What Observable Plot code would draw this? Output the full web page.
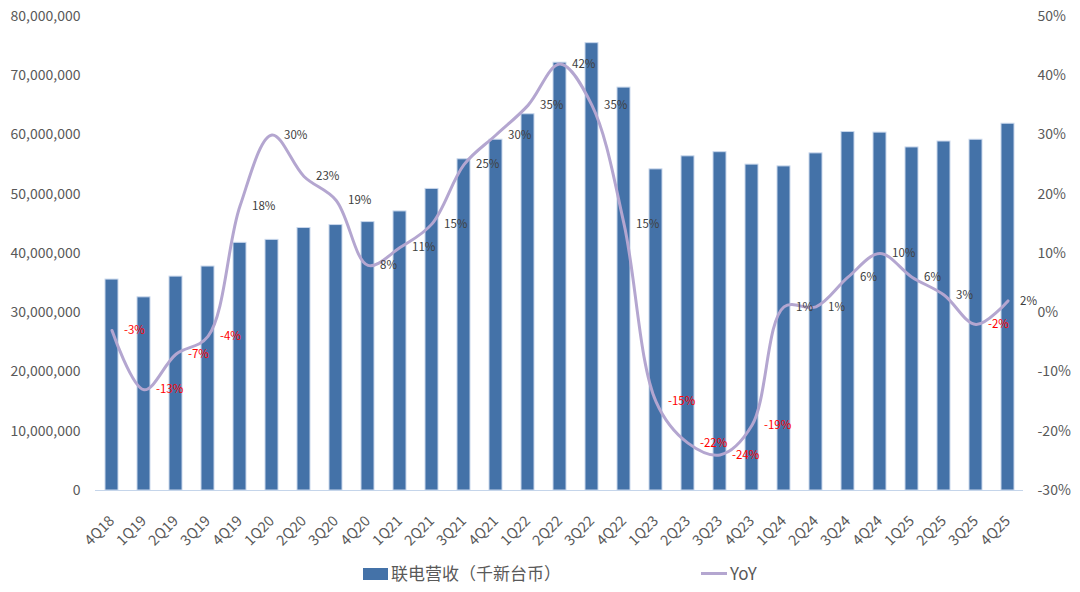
<!DOCTYPE html>
<html>
<head>
<meta charset="utf-8">
<script src="https://cdn.jsdelivr.net/npm/d3@7"></script>
<script src="https://cdn.jsdelivr.net/npm/@observablehq/plot@0.6"></script>
<style>
  html, body { margin: 0; padding: 0; background: #fff; }
  body { width: 1080px; height: 592px; overflow: hidden; font-family: "Noto Sans CJK SC", "Noto Sans", sans-serif; }
  #legend { position: relative; width: 1080px; height: 37px; color: #595959; font-size: 17px; }
  #legend .sw { position: absolute; }
  #legend .tx { position: absolute; line-height: 20px; }
</style>
</head>
<body>
<div id="chart"></div>
<div id="legend">
  <div class="sw" style="left:363px; top:13px; width:25px; height:12px; background:#4472A8;"></div>
  <div class="tx" style="left:391px; top:8px;">联电营收（千新台币）</div>
  <div class="sw" style="left:701px; top:17px; width:26px; height:3px; background:#B4A6D0;"></div>
  <div class="tx" style="left:730px; top:8px;">YoY</div>
</div>
<script>
const quarters = ["4Q18","1Q19","2Q19","3Q19","4Q19","1Q20","2Q20","3Q20","4Q20","1Q21","2Q21","3Q21","4Q21","1Q22","2Q22","3Q22","4Q22","1Q23","2Q23","3Q23","4Q23","1Q24","2Q24","3Q24","4Q24","1Q25","2Q25","3Q25","4Q25"];
const revenue = [35600000,32600000,36100000,37800000,41800000,42300000,44300000,44800000,45300000,47100000,50900000,55900000,59200000,63500000,72200000,75500000,68000000,54200000,56400000,57100000,55000000,54700000,56900000,60500000,60400000,57900000,58900000,59200000,61900000];
const yoy = [-3,-13,-7,-4,18,30,23,19,8,11,15,25,30,35,42,35,15,-15,-22,-24,-19,1,1,6,10,6,3,-2,2];
const leftTicks = [0,10000000,20000000,30000000,40000000,50000000,60000000,70000000,80000000];
const rightTicks = [-30,-20,-10,0,10,20,30,40,50];

// right-axis percent mapped onto the revenue scale: -30% -> 0, 50% -> 80,000,000
const pctToY = p => (p + 30) * 1e6;
const yToPct = v => Math.round(v / 1e6 - 30);

const data = quarters.map((q, i) => ({q, revenue: revenue[i], yoy: yoy[i], yy: pctToY(yoy[i])}));

const chart = Plot.plot({
  width: 1080,
  height: 555,
  marginTop: 16,
  marginBottom: 65,
  marginLeft: 95,
  marginRight: 57,
  style: {fontFamily: '"Noto Sans CJK SC", "Noto Sans", sans-serif', color: "#595959", background: "#fff"},
  x: {type: "band", domain: quarters, paddingInner: 0.6, paddingOuter: 0.3, label: null},
  y: {domain: [0, 80000000], label: null},
  marks: [
    Plot.barY(data, {x: "q", y: "revenue", fill: "#4472A8", stroke: "#C9D7EC", strokeWidth: 1}),
    Plot.ruleY([0], {stroke: "#C5D5EA", strokeWidth: 1}),
    Plot.axisY({anchor: "left", ticks: leftTicks, tickFormat: d3.format(","), tickSize: 0, tickPadding: 15, fontSize: 14, label: null}),
    Plot.axisY({anchor: "right", ticks: rightTicks.map(pctToY), tickFormat: d => yToPct(d) + "%", tickSize: 0, tickPadding: 14, fontSize: 14, textAnchor: "start", label: null}),
    Plot.axisX({tickRotate: -45, tickSize: 0, tickPadding: 28, fontSize: 14.5, label: null}),
    Plot.line(data, {x: "q", y: "yy", stroke: "#B4A6D0", strokeWidth: 3, curve: "catmull-rom"}),
    Plot.text(data, {x: "q", y: "yy", text: d => d.yoy + "%", dx: 12, textAnchor: "start", fontSize: 11.5,
      fill: d => d.yoy < 0 ? "#FF0000" : "#404040"})
  ]
});
document.getElementById("chart").appendChild(chart);
</script>
</body>
</html>
